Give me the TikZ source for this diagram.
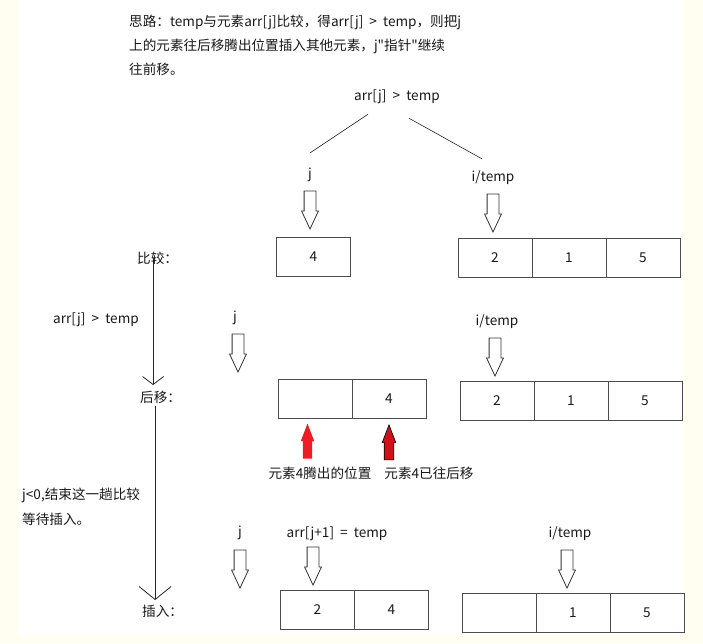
\documentclass[tikz,border=0pt]{standalone}
\usepackage{fontspec}
\setmainfont{Noto Sans CJK SC}[Ligatures=TeXOff]
\usetikzlibrary{positioning,shapes.arrows,arrows.meta}
\definecolor{cream}{HTML}{FFFEF0}
\definecolor{arrred}{HTML}{EE1C25}
\definecolor{darkred}{HTML}{D0101A}
\tikzset{
  txt/.style={inner sep=1pt, text=black!90, font=\fontsize{13.6}{15}\selectfont},
  cell/.style={txt, draw=black!70, line width=0.9pt, minimum width=74pt, minimum height=39pt, inner sep=0pt, outer sep=0pt},
  hollow/.style={single arrow, draw=black!80, line width=0.8pt, fill=white, minimum width=16pt,
    single arrow head extend=2.5pt, single arrow tip angle=50, minimum height=38pt,
    inner xsep=0pt, inner ysep=5.5pt, rotate=-90, anchor=tip},
  uparrow/.style={single arrow, minimum width=13pt, single arrow head extend=2pt,
    single arrow tip angle=42, minimum height=35pt, inner xsep=0pt, inner ysep=4.5pt,
    rotate=90, anchor=tip},
  flow/.style={draw=black!85, line width=0.8pt}
}
\newcommand{\gt}{\ \ >\ \ }
\begin{document}
\begin{tikzpicture}[x=1pt,y=-1pt]
  % fond
  \fill[cream] (0,0) rectangle (703,643);
  \fill[white] (19,0) rectangle (684,635);
  \useasboundingbox (0,0) rectangle (703,643);

  % explication
  \node[txt,anchor=west] (t1) at (128,22) {思路：temp与元素arr[j]比较，得arr[j]\gt temp，则把j};
  \node[txt,anchor=west] (t2) at (128,46) {上的元素往后移腾出位置插入其他元素，j"指针"继续};
  \node[txt,anchor=west] (t3) at (128,69) {往前移。};

  % comparer
  \node[txt] (cmp) at (397,97) {arr[j]\gt temp};
  \node[txt] (j1) at (310,175) {j};
  \node[txt] (i1) at (493,178) {i/temp};
  \draw[flow,line width=0.6pt] ([xshift=-29pt,yshift=-9pt]cmp.south) -- ([yshift=14pt]j1.north);
  \draw[flow,line width=0.6pt] ([xshift=12pt,yshift=-13pt]cmp.south) -- ([xshift=-11pt,yshift=11pt]i1.north);
  \node[hollow] (pj1) at (310,230) {};
  \node[hollow] (pi1) at (493,233) {};
  \node[cell] (b4) at (313.5,256.5) {4};
  \node[cell] (a2) at (495,258) {2};
  \node[cell,right=0pt of a2] (a1) {1};
  \node[cell,right=0pt of a1] (a5) {5};

  % etapes
  \node[txt,anchor=west] (s1) at (136,258) {比较：};
  \node[txt,anchor=west] (s2) at (139,397) {后移：};
  \node[txt,anchor=west] (s3) at (141,611) {插入：};
  \draw[flow,-{Straight Barb[length=8pt,width=21pt]}] ([xshift=-4.5pt]s1.center) -- ([xshift=-7.5pt,yshift=4.5pt]s2.north);
  \draw[flow,-{Straight Barb[length=13pt,width=32pt]}] ([xshift=-5.5pt,yshift=-1.5pt]s2.south) -- ([xshift=-7.5pt,yshift=3.5pt]s3.north);
  \node[txt,anchor=west] (c1) at (52,320) {arr[j]\gt temp};
  \node[txt,anchor=west] (endl1) at (21,495) {j<0,结束这一趟比较};
  \node[txt,anchor=west] (endl2) at (21,519) {等待插入。};

  % deplacer
  \node[txt] (j2) at (235,318) {j};
  \node[hollow] (pj2) at (238,373) {};
  \node[txt] (i2) at (497,322) {i/temp};
  \node[hollow] (pi2) at (495,377) {};
  \node[cell] (e2) at (315,399) {};
  \node[cell,right=0pt of e2] (m4) {4};
  \node[cell] (r2) at (497,400.5) {2};
  \node[cell,right=0pt of r2] (r1) {1};
  \node[cell,right=0pt of r1] (r5) {5};
  \node[uparrow,fill=arrred] (gap) at (307.5,423) {};
  \node[uparrow,fill=darkred,draw=black,line width=0.6pt] (moved) at (389,424) {};
  \node[txt] (gapl) at (320,473) {元素4腾出的位置};
  \node[txt] (movl) at (429,473) {元素4已往后移};

  % inserer
  \node[txt] (j3) at (240,533) {j};
  \node[hollow] (pj3) at (240,589) {};
  \node[txt] (set) at (337,534) {arr[j+1]\ \ =\ \ temp};
  \node[hollow] (ps) at (313,586) {};
  \node[txt] (i3) at (570,534) {i/temp};
  \node[hollow] (pi3) at (567,589) {};
  \node[cell] (n2) at (317.5,610) {2};
  \node[cell,right=0pt of n2] (n4) {4};
  \node[cell] (q0) at (499,612.5) {};
  \node[cell,right=0pt of q0] (q1) {1};
  \node[cell,right=0pt of q1] (q5) {5};
\end{tikzpicture}
\end{document}
